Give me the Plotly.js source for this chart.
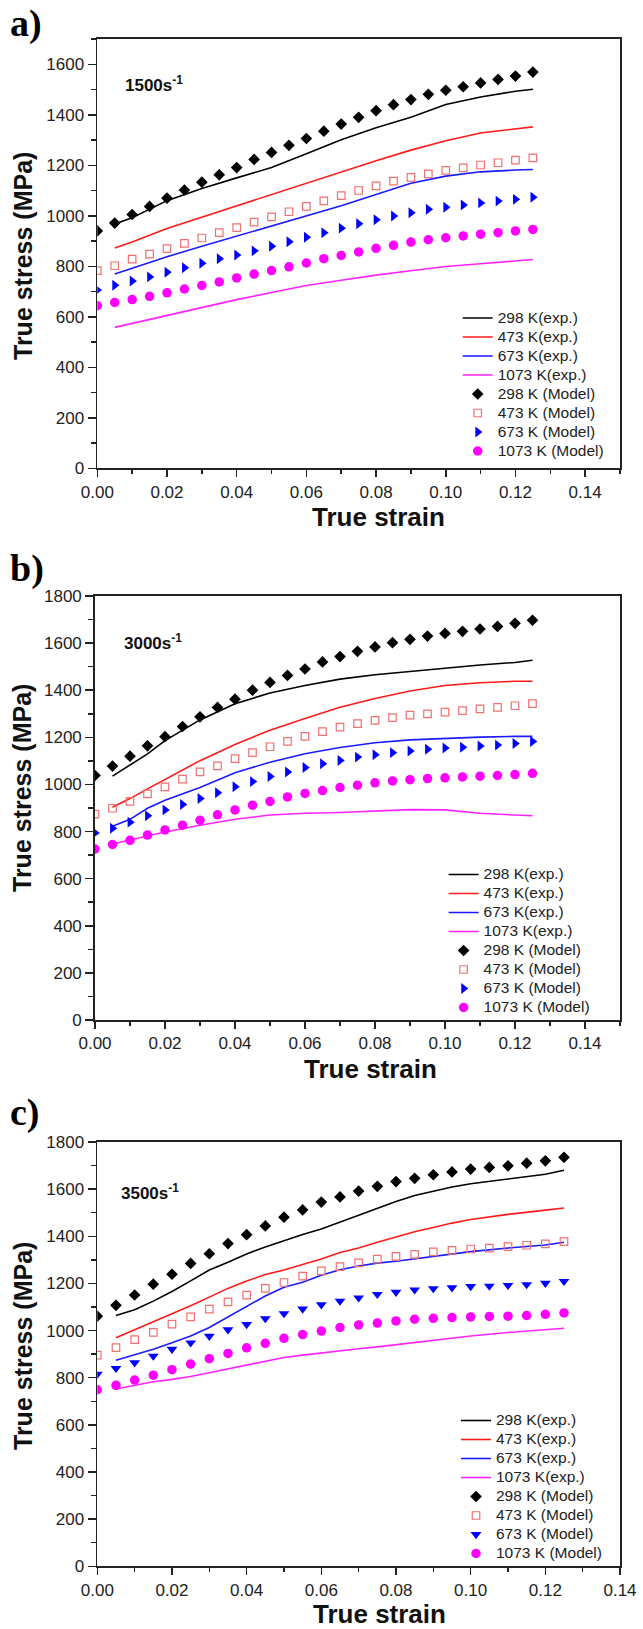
<!DOCTYPE html>
<html>
<head>
<meta charset="utf-8">
<script src="https://cdn.plot.ly/plotly-3.0.1.min.js"></script>
<style>html,body{margin:0;padding:0;background:#fff;}#chart{width:643px;height:1629px;}</style>
</head>
<body>
<div id="chart"></div>
<script>
// ---------- data ----------
const seriesLabelsExp = ["298 K(exp.)", "473 K(exp.)", "673 K(exp.)", "1073 K(exp.)"];
const seriesLabelsModel = ["298 K (Model)", "473 K (Model)", "673 K (Model)", "1073 K (Model)"];
const rateLabels = ["1500s<sup>-1</sup>", "3000s<sup>-1</sup>", "3500s<sup>-1</sup>"];
const panelLabels = ["a)", "b)", "c)"];
const xTitle = "True strain";
const yTitle = "True stress (MPa)";

const strainModel = [0, 0.005, 0.01, 0.015, 0.02, 0.025, 0.03, 0.035, 0.04, 0.045, 0.05, 0.055, 0.06,
  0.065, 0.07, 0.075, 0.08, 0.085, 0.09, 0.095, 0.10, 0.105, 0.11, 0.115, 0.12, 0.125];

// Panel a) 1500 s^-1
const strainExpA = [0.005, 0.01, 0.02, 0.03, 0.04, 0.05, 0.06, 0.07, 0.08, 0.09, 0.10, 0.11, 0.12, 0.125];
const a298Exp = [967, 992, 1060, 1108, 1150, 1191, 1246, 1301, 1349, 1390, 1441, 1470, 1493, 1501];
const a473Exp = [872, 896, 950, 995, 1041, 1084, 1129, 1174, 1218, 1260, 1297, 1328, 1346, 1352];
const a673Exp = [769, 793, 838, 879, 919, 957, 999, 1040, 1084, 1129, 1157, 1174, 1181, 1183];
const a1073Exp = [558, 574, 604, 635, 668, 696, 724, 745, 765, 782, 799, 810, 820, 827];
const a298Model = [940, 971, 1005, 1037, 1070, 1102, 1133, 1162, 1191, 1223, 1251, 1279, 1306,
  1335, 1363, 1390, 1416, 1440, 1460, 1481, 1497, 1511, 1526, 1540, 1553, 1569];
const a473Model = [783, 802, 828, 848, 870, 891, 912, 933, 953, 975, 996, 1016, 1037,
  1059, 1080, 1100, 1118, 1137, 1152, 1166, 1180, 1190, 1201, 1210, 1220, 1229];
const a673Model = [706, 725, 742, 758, 776, 794, 812, 830, 845, 861, 879, 897, 915,
  933, 951, 968, 984, 999, 1012, 1026, 1034, 1043, 1051, 1058, 1065, 1073];
const a1073Model = [644, 657, 668, 681, 695, 710, 724, 738, 754, 769, 783, 798, 813,
  830, 843, 857, 871, 883, 896, 905, 913, 920, 927, 933, 940, 946];

// Panel b) 3000 s^-1
const strainExpB = [0.005, 0.01, 0.015, 0.02, 0.03, 0.04, 0.05, 0.06, 0.07, 0.08, 0.09, 0.10, 0.11, 0.12, 0.125];
const b298Exp = [1035, 1082, 1130, 1186, 1274, 1343, 1388, 1420, 1447, 1466, 1480, 1495, 1507, 1518, 1527];
const b473Exp = [903, 940, 981, 1022, 1101, 1170, 1230, 1280, 1328, 1365, 1397, 1420, 1432, 1438, 1438];
const b673Exp = [823, 852, 899, 933, 987, 1050, 1094, 1130, 1157, 1177, 1189, 1196, 1201, 1204, 1204];
const b1073Exp = [747, 764, 780, 798, 827, 852, 870, 878, 881, 887, 893, 892, 878, 870, 867];
const b298Model = [1038, 1078, 1120, 1164, 1203, 1246, 1287, 1327, 1362, 1400, 1433, 1463, 1490,
  1520, 1543, 1565, 1584, 1602, 1616, 1630, 1641, 1650, 1660, 1671, 1684, 1697];
const b473Model = [874, 899, 928, 960, 990, 1023, 1053, 1079, 1110, 1135, 1160, 1183, 1204,
  1224, 1243, 1258, 1272, 1284, 1294, 1300, 1307, 1313, 1321, 1327, 1334, 1343];
const b673Model = [794, 814, 840, 867, 892, 915, 940, 965, 990, 1012, 1034, 1053, 1072,
  1088, 1102, 1116, 1126, 1135, 1142, 1149, 1155, 1158, 1163, 1167, 1174, 1182];
const b1073Model = [726, 745, 763, 785, 807, 827, 848, 871, 892, 912, 928, 947, 962,
  974, 987, 997, 1007, 1015, 1020, 1025, 1028, 1032, 1035, 1038, 1042, 1047];

// Panel c) 3500 s^-1
const strainExpC = [0.005, 0.01, 0.015, 0.02, 0.025, 0.03, 0.035, 0.04, 0.045, 0.05, 0.055, 0.06,
  0.065, 0.07, 0.075, 0.08, 0.085, 0.09, 0.095, 0.10, 0.11, 0.12, 0.125];
const c298Exp = [1064, 1088, 1125, 1166, 1211, 1257, 1290, 1325, 1355, 1383, 1408, 1431,
  1460, 1489, 1520, 1548, 1573, 1592, 1609, 1623, 1643, 1663, 1680];
const c473Exp = [970, 1004, 1036, 1070, 1105, 1142, 1179, 1210, 1238, 1257, 1279, 1304,
  1331, 1350, 1375, 1397, 1419, 1437, 1456, 1471, 1493, 1511, 1520];
const c673Exp = [874, 896, 921, 948, 977, 1013, 1058, 1102, 1147, 1184, 1205, 1235,
  1258, 1274, 1286, 1294, 1304, 1313, 1324, 1335, 1350, 1363, 1375];
const c1073Exp = [752, 768, 783, 793, 805, 821, 837, 856, 871, 886, 896, 906,
  915, 923, 931, 940, 950, 960, 968, 977, 992, 1004, 1010];
const c298Model = [1061, 1107, 1151, 1197, 1239, 1285, 1326, 1369, 1407, 1444, 1481, 1512, 1545,
  1567, 1592, 1612, 1632, 1646, 1661, 1673, 1685, 1692, 1699, 1710, 1720, 1735];
const c473Model = [896, 928, 962, 992, 1027, 1058, 1091, 1122, 1150, 1179, 1204, 1231, 1253,
  1271, 1287, 1303, 1315, 1323, 1334, 1340, 1346, 1350, 1356, 1362, 1368, 1377];
const c673Model = [815, 840, 864, 892, 921, 948, 976, 1004, 1026, 1051, 1072, 1092, 1110,
  1125, 1139, 1154, 1163, 1173, 1178, 1182, 1187, 1189, 1192, 1195, 1201, 1209];
const c1073Model = [749, 768, 790, 811, 834, 858, 881, 903, 927, 946, 967, 983, 998,
  1013, 1024, 1032, 1041, 1048, 1052, 1055, 1058, 1060, 1061, 1064, 1069, 1075];

// ---------- styling ----------
const W = 643, H = 1629;
const lineColors = ["#000000", "#ff1a1a", "#1a1aff", "#ff22ff"];
const FONT = "Liberation Sans, Arial, sans-serif";
const AX = "#222222";

const panels = [
  { exp: [a298Exp, a473Exp, a673Exp, a1073Exp], expX: strainExpA,
    model: [a298Model, a473Model, a673Model, a1073Model], tri: "triangle-right",
    xr: [0, 0.15], yr: [0, 1700], px: [97.3, 620], py: [39, 468.3],
    rate: [0.0075, 1522], lab: 24, leg: [457.7, 384.5],
    xt: [378, 501], yt: [23, 256] },
  { exp: [b298Exp, b473Exp, b673Exp, b1073Exp], expX: strainExpB,
    model: [b298Model, b473Model, b673Model, b1073Model], tri: "triangle-right",
    xr: [0, 0.15], yr: [0, 1800], px: [95, 620], py: [596, 1020],
    rate: [0.0078, 1606], lab: 568, leg: [443.6, 941],
    xt: [370, 1053], yt: [22, 788] },
  { exp: [c298Exp, c473Exp, c673Exp, c1073Exp], expX: strainExpC,
    model: [c298Model, c473Model, c673Model, c1073Model], tri: "triangle-down",
    xr: [0, 0.14], yr: [0, 1800], px: [97.3, 620], py: [1142, 1566.3],
    rate: [0.0058, 1586], lab: 1112, leg: [456, 1487],
    xt: [379, 1598], yt: [23, 1346] }
];

const legName = s => "<span style='font-size:15.5px'>" + s + "</span>";

const traces = [];
const layout = {
  width: W, height: H,
  margin: { l: 0, r: 0, t: 0, b: 0 },
  paper_bgcolor: "#ffffff", plot_bgcolor: "#ffffff",
  font: { family: FONT, color: AX },
  showlegend: true,
  annotations: []
};

panels.forEach((p, i) => {
  const n = i + 1;
  const sx = n === 1 ? "" : String(n);
  const xId = "x" + sx, yId = "y" + sx;
  const legId = n === 1 ? "legend" : "legend" + n;
  const dx = [p.px[0] / W, p.px[1] / W];
  const dy = [1 - p.py[1] / H, 1 - p.py[0] / H];

  // experimental lines
  p.exp.forEach((ys, k) => {
    traces.push({
      type: "scatter", mode: "lines", x: p.expX, y: ys,
      xaxis: xId, yaxis: yId, legend: legId,
      name: legName(seriesLabelsExp[k]),
      line: { color: lineColors[k], width: 1.6 }
    });
  });
  // model markers
  const markers = [
    { symbol: "diamond", size: 9, color: "#000000", line: { width: 0 } },
    { symbol: "square-open", size: 7.5, color: "#f27070", line: { width: 1.2, color: "#f27070" } },
    { symbol: p.tri, size: 9.5, color: "#0000ff", line: { width: 0 } },
    { symbol: "circle", size: 9.5, color: "#ff00ff", line: { width: 0 } }
  ];
  p.model.forEach((ys, k) => {
    traces.push({
      type: "scatter", mode: "markers", x: strainModel, y: ys,
      xaxis: xId, yaxis: yId, legend: legId,
      name: legName(seriesLabelsModel[k]),
      marker: markers[k]
    });
  });

  const tf = { family: FONT, size: 17, color: AX };
  layout["xaxis" + sx] = {
    domain: dx, anchor: yId, range: p.xr, tick0: 0, dtick: 0.02, tickformat: ".2f",
    ticks: "outside", ticklen: 7, tickwidth: 1.5, tickcolor: AX,
    minor: { dtick: 0.01, ticks: "outside", ticklen: 4, tickwidth: 1.5, tickcolor: AX, showgrid: false },
    showline: true, linecolor: AX, linewidth: 1.8, mirror: true,
    showgrid: false, zeroline: false, tickfont: tf
  };
  layout["yaxis" + sx] = {
    domain: dy, anchor: xId, range: p.yr, tick0: 0, dtick: 200,
    ticks: "outside", ticklen: 8, tickwidth: 1.5, tickcolor: AX,
    minor: { dtick: 100, ticks: "outside", ticklen: 5, tickwidth: 1.5, tickcolor: AX, showgrid: false },
    showline: true, linecolor: AX, linewidth: 1.8, mirror: true,
    showgrid: false, zeroline: false, tickfont: tf
  };
  // inside ticks on top and right
  layout["xaxis" + (n + 3)] = {
    overlaying: xId, anchor: yId, side: "top", range: p.xr, tick0: 0, dtick: 0.01,
    ticks: "inside", ticklen: 5, tickwidth: 1.5, tickcolor: AX,
    showticklabels: false, showline: false, showgrid: false, zeroline: false
  };
  layout["yaxis" + (n + 3)] = {
    overlaying: yId, anchor: xId, side: "right", range: p.yr, tick0: 0, dtick: 100,
    ticks: "inside", ticklen: 6, tickwidth: 1.5, tickcolor: AX,
    showticklabels: false, showline: false, showgrid: false, zeroline: false
  };

  layout[legId] = {
    x: p.leg[0] / W, xanchor: "left", y: 1 - p.leg[1] / H, yanchor: "middle",
    bgcolor: "rgba(0,0,0,0)", borderwidth: 0, font: { family: FONT, size: 12, color: AX },
    tracegroupgap: 0, itemwidth: 30
  };

  // axis titles
  layout.annotations.push({
    xref: "paper", yref: "paper", x: p.xt[0] / W, y: 1 - p.xt[1] / H,
    xanchor: "center", yanchor: "top", showarrow: false, borderpad: 0,
    text: "<b>" + xTitle + "</b>", font: { family: FONT, size: 26, color: "#111" }
  });
  layout.annotations.push({
    xref: "paper", yref: "paper", x: p.yt[0] / W, y: 1 - p.yt[1] / H,
    xanchor: "center", yanchor: "middle", showarrow: false, textangle: -90,
    text: "<b>" + yTitle + "</b>", font: { family: FONT, size: 25, color: "#111" }
  });
  // strain-rate label
  layout.annotations.push({
    xref: xId, yref: yId, x: p.rate[0], y: p.rate[1], xanchor: "left", yanchor: "middle",
    text: "<b>" + rateLabels[i] + "</b>", showarrow: false,
    font: { family: FONT, size: 17, color: "#111" }
  });
  // panel letter
  layout.annotations.push({
    xref: "paper", yref: "paper", x: 8 / W, y: 1 - p.lab / H, xanchor: "left", yanchor: "middle",
    text: "<b>" + panelLabels[i] + "</b>", showarrow: false,
    font: { family: "Liberation Serif, Times New Roman, serif", size: 38, color: "#000" }
  });
});

Plotly.newPlot("chart", traces, layout, { staticPlot: true, displayModeBar: false });
</script>
</body>
</html>
